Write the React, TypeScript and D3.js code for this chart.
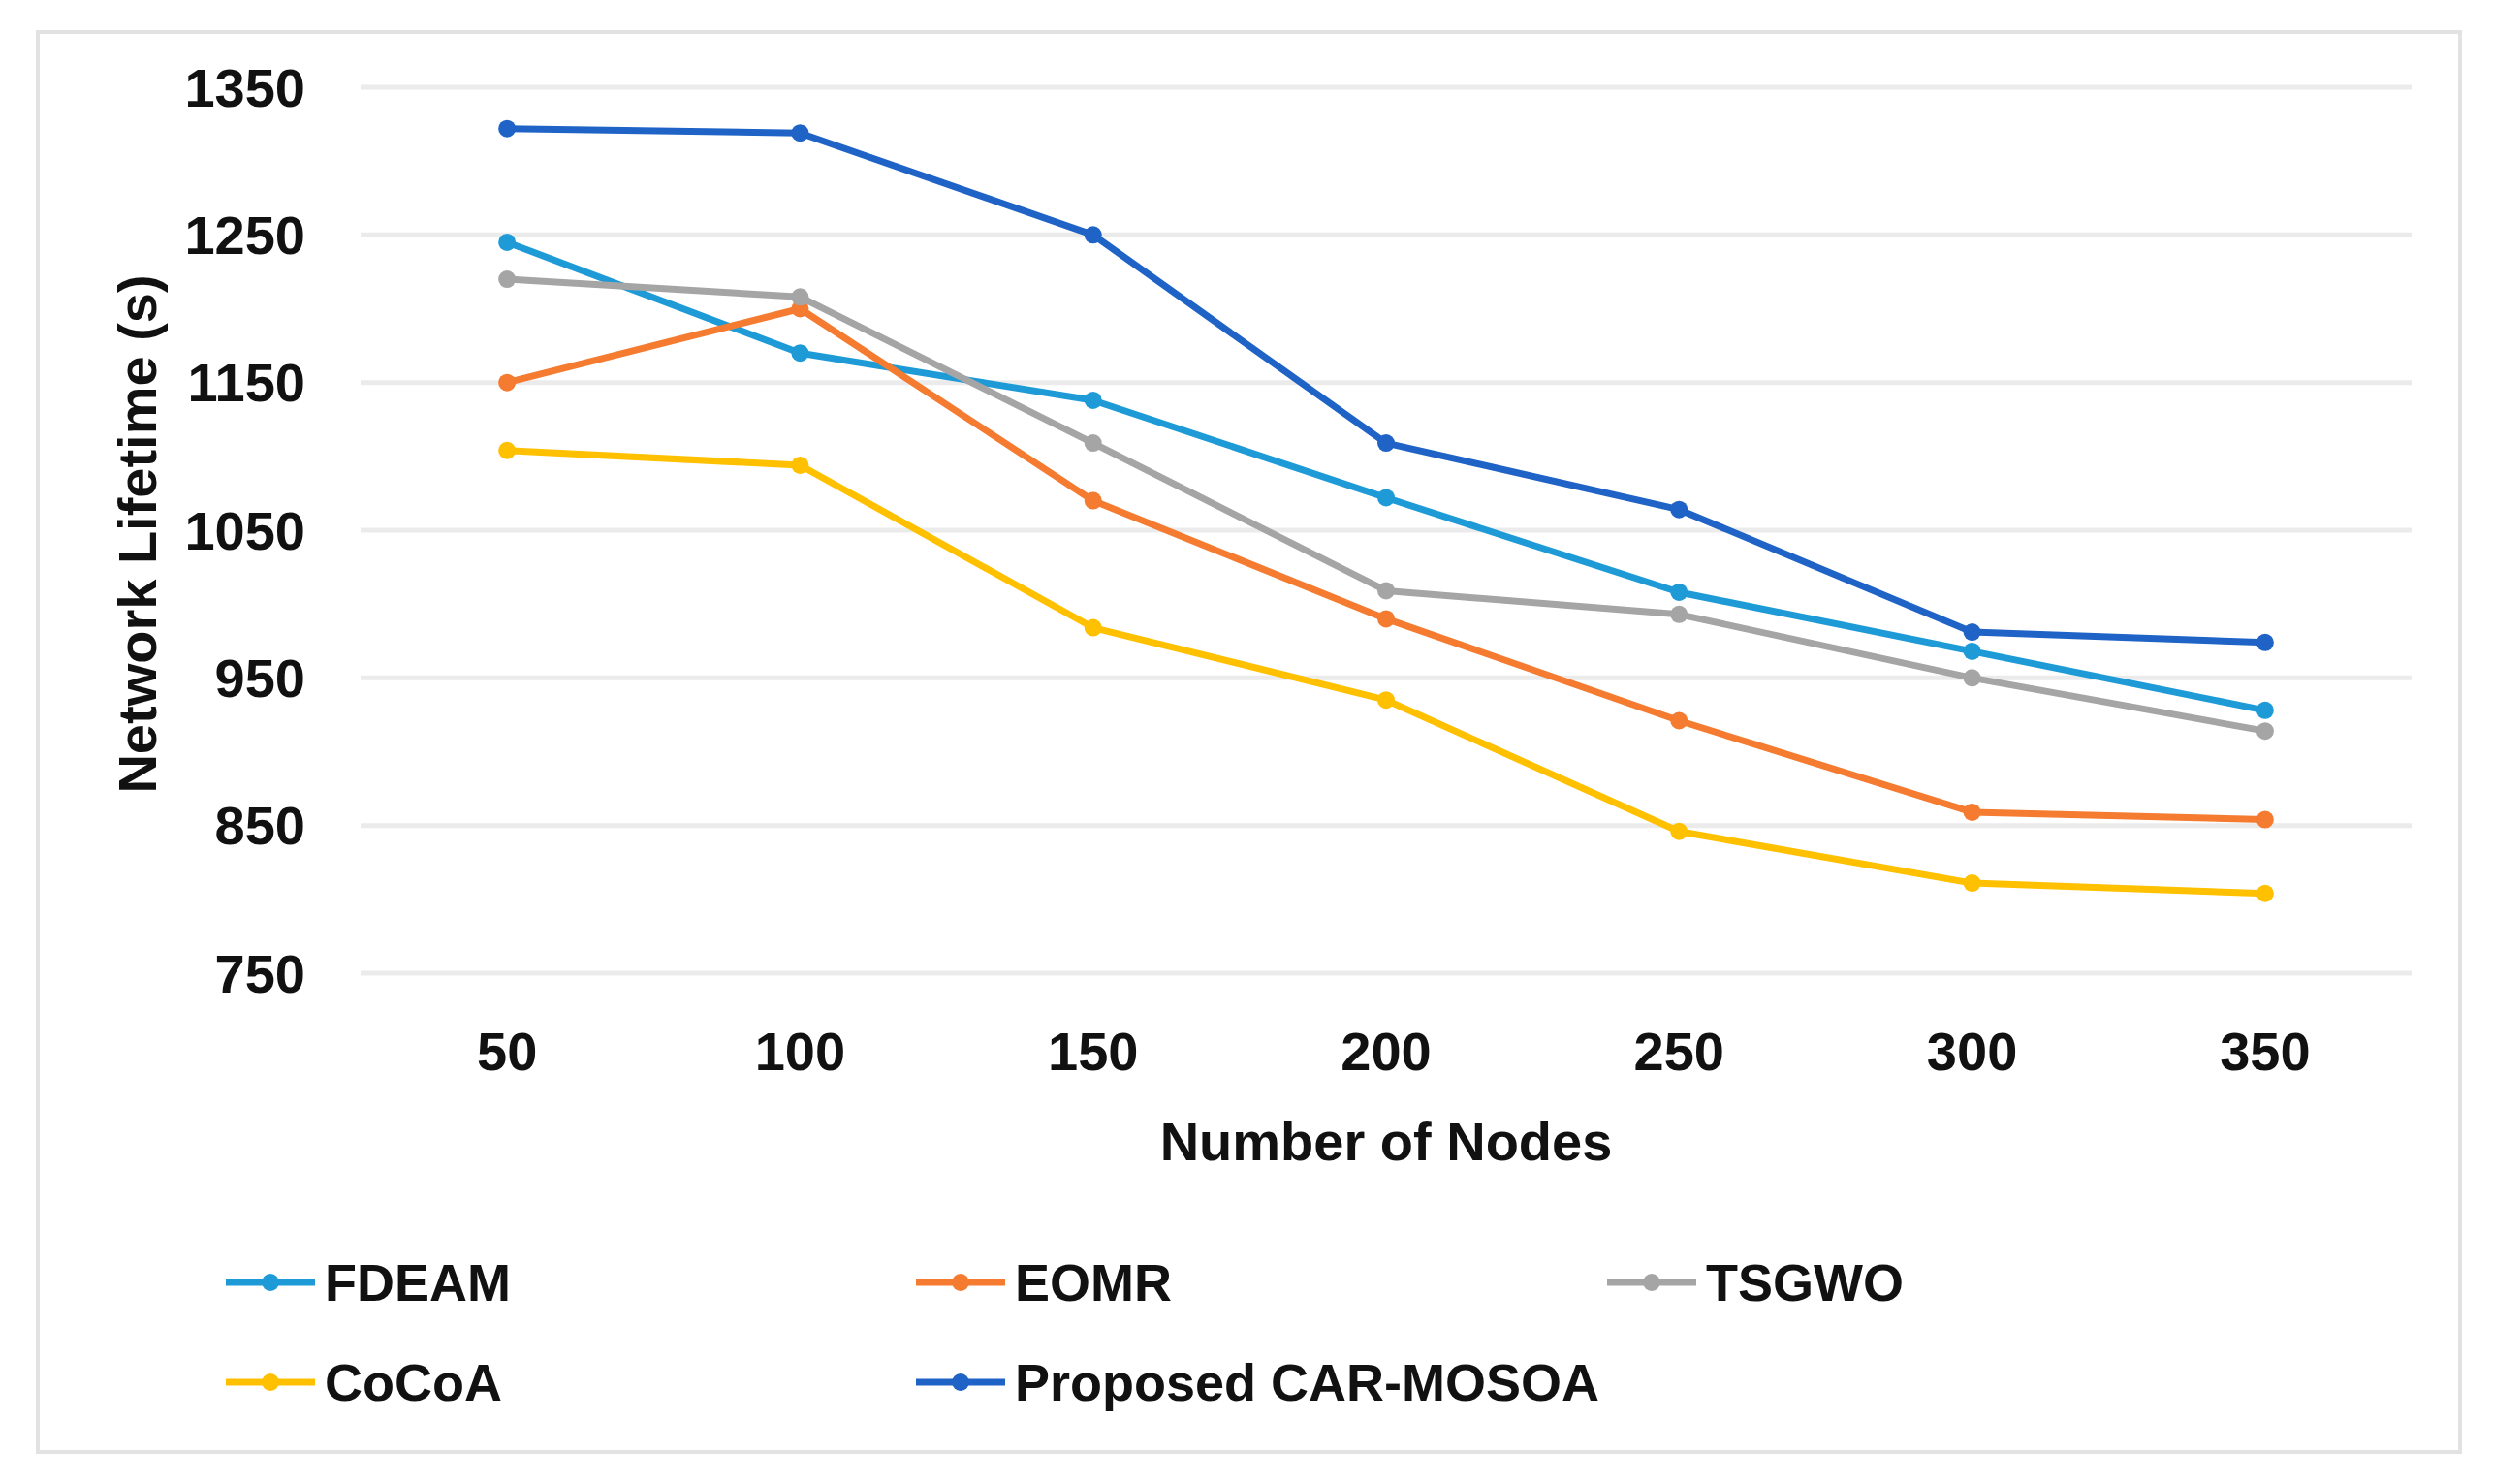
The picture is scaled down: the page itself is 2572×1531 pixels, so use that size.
import React, { useRef, useEffect } from 'react';
import * as d3 from 'd3';

// x categories (number of nodes)
const nodeCounts = ['50', '100', '150', '200', '250', '300', '350'];

// series values
const fdeam = [1245, 1170, 1138, 1072, 1008, 968, 928];
const eomr = [1150, 1200, 1070, 990, 921, 859, 854];
const tsgwo = [1220, 1208, 1109, 1009, 993, 950, 914];
const cocoa = [1104, 1094, 984, 935, 846, 811, 804];
const proposed = [1322, 1319, 1250, 1109, 1064, 981, 974];

const seriesNames = ['FDEAM', 'EOMR', 'TSGWO', 'CoCoA', 'Proposed CAR-MOSOA'];
const seriesColors = ['#1E9BD7', '#F47B30', '#A5A5A5', '#FFC000', '#1F63C6'];

const yTicks = [750, 850, 950, 1050, 1150, 1250, 1350];

const App = () => {
  const svgRef = useRef<SVGSVGElement | null>(null);

  useEffect(() => {
    if (!svgRef.current) return;
    document.body.style.margin = '0';

    const width = 2572;
    const height = 1531;
    const font = '"Liberation Sans", Arial, sans-serif';

    const svg = d3.select(svgRef.current)
      .attr('width', width)
      .attr('height', height);
    svg.selectAll('*').remove();

    svg.append('rect')
      .attr('width', width).attr('height', height)
      .attr('fill', '#ffffff');

    // chart area border
    svg.append('rect')
      .attr('x', 39).attr('y', 33)
      .attr('width', 2499).attr('height', 1465)
      .attr('fill', 'none')
      .attr('stroke', '#e2e2e2')
      .attr('stroke-width', 4);

    const x = d3.scalePoint<string>().domain(nodeCounts).range([372, 2488]).padding(0.5);
    const y = d3.scaleLinear().domain([750, 1350]).range([1004, 90]);

    // gridlines
    svg.append('g')
      .selectAll('line')
      .data(yTicks)
      .enter().append('line')
      .attr('x1', 372).attr('x2', 2488)
      .attr('y1', d => y(d)).attr('y2', d => y(d))
      .attr('stroke', '#ebebeb')
      .attr('stroke-width', 5);

    // y tick labels
    svg.append('g')
      .selectAll('text')
      .data(yTicks)
      .enter().append('text')
      .attr('x', 315)
      .attr('y', d => y(d))
      .attr('text-anchor', 'end')
      .attr('dominant-baseline', 'central')
      .style('font-family', font)
      .style('font-weight', 'bold')
      .style('font-size', '56px')
      .attr('fill', '#111')
      .text(d => d);

    // x tick labels
    svg.append('g')
      .selectAll('text')
      .data(nodeCounts)
      .enter().append('text')
      .attr('x', d => x(d) as number)
      .attr('y', 1084)
      .attr('text-anchor', 'middle')
      .attr('dominant-baseline', 'central')
      .style('font-family', font)
      .style('font-weight', 'bold')
      .style('font-size', '56px')
      .attr('fill', '#111')
      .text(d => d);

    // axis titles
    svg.append('text')
      .attr('x', 1430).attr('y', 1177)
      .attr('text-anchor', 'middle')
      .attr('dominant-baseline', 'central')
      .style('font-family', font)
      .style('font-weight', 'bold')
      .style('font-size', '56px')
      .attr('fill', '#111')
      .text('Number of Nodes');

    svg.append('text')
      .attr('transform', 'translate(141,551) rotate(-90)')
      .attr('text-anchor', 'middle')
      .attr('dominant-baseline', 'central')
      .style('font-family', font)
      .style('font-weight', 'bold')
      .style('font-size', '56px')
      .attr('fill', '#111')
      .text('Network Lifetime (s)');

    // ! LINES
    const allSeries = [fdeam, eomr, tsgwo, cocoa, proposed];
    const line = d3.line<number>()
      .x((_, i) => x(nodeCounts[i]) as number)
      .y(d => y(d));

    allSeries.forEach((values, si) => {
      const g = svg.append('g');
      g.append('path')
        .datum(values)
        .attr('fill', 'none')
        .attr('stroke', seriesColors[si])
        .attr('stroke-width', 7)
        .attr('stroke-linejoin', 'round')
        .attr('d', line);
      g.selectAll('circle')
        .data(values)
        .enter().append('circle')
        .attr('cx', (_, i) => x(nodeCounts[i]) as number)
        .attr('cy', d => y(d))
        .attr('r', 9)
        .attr('fill', seriesColors[si]);
    });

    // ! LEGEND
    const legendCols = [233, 945, 1658];
    const legendRows = [1323, 1426];
    const legend = svg.append('g');
    seriesNames.forEach((name, i) => {
      const lx = legendCols[i % 3];
      const ly = legendRows[Math.floor(i / 3)];
      const item = legend.append('g').attr('transform', `translate(${lx},${ly})`);
      item.append('line')
        .attr('x1', 0).attr('x2', 92)
        .attr('y1', 0).attr('y2', 0)
        .attr('stroke', seriesColors[i])
        .attr('stroke-width', 7);
      item.append('circle')
        .attr('cx', 46).attr('cy', 0).attr('r', 9)
        .attr('fill', seriesColors[i]);
      item.append('text')
        .attr('x', 102).attr('y', 0)
        .attr('dominant-baseline', 'central')
        .style('font-family', font)
        .style('font-weight', 'bold')
        .style('font-size', '54px')
        .attr('fill', '#111')
        .text(name);
    });
  }, []);

  return <svg ref={svgRef} style={{ display: 'block' }}></svg>;
};

export default App;
